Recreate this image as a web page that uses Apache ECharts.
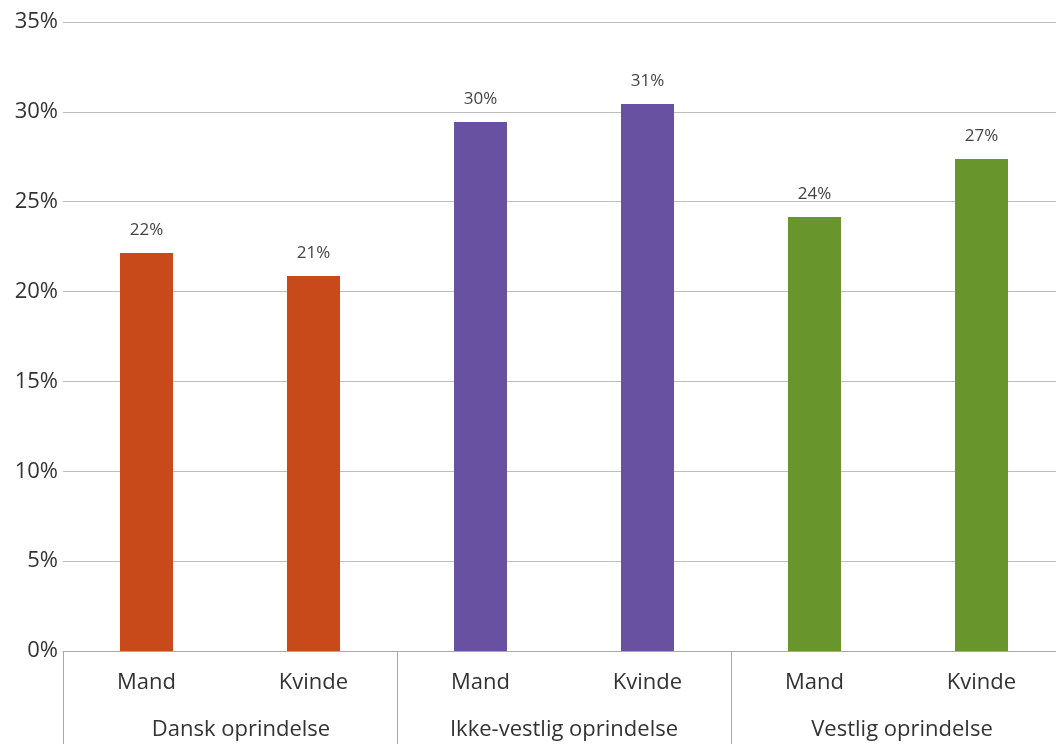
<!DOCTYPE html>
<html><head><meta charset="utf-8">
<script src="https://cdn.jsdelivr.net/npm/echarts@6/dist/echarts.min.js"></script>
<style>html,body{margin:0;padding:0;background:#fff}#c{width:1056px;height:744px}</style>
</head><body><div id="c"></div>
<script>
const categories = ['Mand','Kvinde','Mand','Kvinde','Mand','Kvinde'];
const groups = ['Dansk oprindelse','Ikke-vestlig oprindelse','Vestlig oprindelse'];
const values = [22.15, 20.87, 29.44, 30.44, 24.15, 27.38];
const labels = ['22%','21%','30%','31%','24%','27%'];
const colors = ['#C84A1A','#C84A1A','#6851A0','#6851A0','#68962C','#68962C'];
const yTicks = [0,5,10,15,20,25,30,35];

const font = '"Open Sans", sans-serif';
const chart = echarts.init(document.getElementById('c'));
chart.setOption({
  animation:false,
  grid:{left:63, top:22, width:1002, height:629, containLabel:false, outerBoundsMode:'none'},
  xAxis:[{
    type:'category', data:categories, position:'bottom',
    axisLine:{show:true, lineStyle:{color:'#a8a8a8', width:1}},
    axisTick:{show:false},
    axisLabel:{fontFamily:font, fontSize:22, color:'#333', margin:21}
  },{
    type:'category', position:'bottom', offset:0,
    data: groups.map((g,i)=> i===0 ? {value:g, textStyle:{padding:[0,0,0,22]}} : (i===2 ? {value:g, textStyle:{padding:[0,0,0,8]}} : g)),
    axisLine:{show:false},
    axisTick:{show:true, length:100, alignWithLabel:false, lineStyle:{color:'#a8a8a8'}},
    axisLabel:{fontFamily:font, fontSize:22, color:'#333', margin:68}
  }],
  yAxis:{
    type:'value', min:0, max:35, interval:5,
    axisLine:{show:false}, axisTick:{show:false},
    splitLine:{lineStyle:{color:'#bdbdbd', width:1}},
    axisLabel:{fontFamily:font, fontSize:22, color:'#333', margin:5,
      formatter:v=> yTicks.includes(v) ? v+'%' : ''}
  },
  series:[{
    type:'bar', xAxisIndex:0, barWidth:53,
    data: values.map((v,i)=>({value:v, itemStyle:{color:colors[i]}})),
    label:{show:true, position:'top', distance:14, fontFamily:font, fontSize:17, color:'#444',
      formatter:p=>labels[p.dataIndex]}
  }]
});
</script></body></html>
